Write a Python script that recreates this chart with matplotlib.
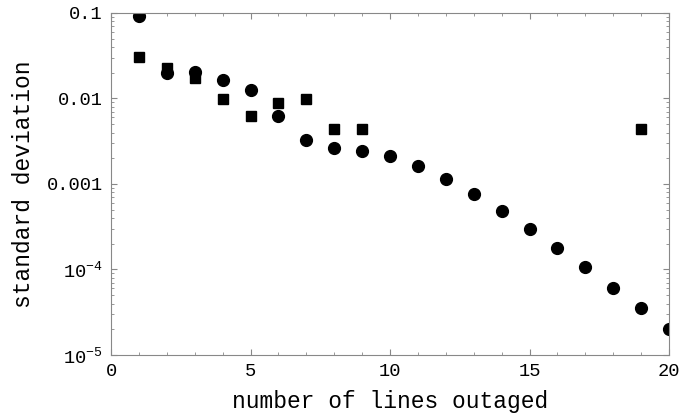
import matplotlib
matplotlib.use("Agg")
import matplotlib.pyplot as plt
import matplotlib.ticker as mticker
import numpy as np

plt.rcParams['font.family'] = ['Liberation Mono', 'DejaVu Sans']
plt.rcParams['mathtext.fontset'] = 'custom'
plt.rcParams['mathtext.rm'] = 'Liberation Mono'
plt.rcParams['mathtext.it'] = 'Liberation Mono'

# circles
n_circ = [1, 2, 3, 4, 5, 6, 7, 8, 9, 10, 11, 12, 13, 14, 15, 16, 17, 18, 19, 20]
sd_circ = [0.092, 0.020, 0.0206, 0.0163, 0.0126, 0.0063, 0.00325, 0.00266, 0.00245, 0.0021,
           0.00163, 0.00114, 0.00077, 0.000488, 0.000298, 0.00018, 0.000106, 6.1e-5, 3.5e-5, 2.0e-5]

# squares
n_sq = [1, 2, 3, 4, 5, 6, 7, 8, 9, 19]
sd_sq = [0.0303, 0.0229, 0.0172, 0.0098, 0.0062, 0.0088, 0.0098, 0.00436, 0.00436, 0.00436]

ytick_vals = [1e-5, 1e-4, 1e-3, 1e-2, 1e-1]
ytick_labels = ['$10^{-5}$', '$10^{-4}$', '0.001', '0.01', '0.1']

fig = plt.figure(figsize=(6.82, 4.15), dpi=100)
ax = fig.add_axes([0.1628, 0.1446, 0.8182, 0.8241])

ax.plot(n_circ, sd_circ, 'o', color='black', markersize=8.5, linestyle='none')
ax.plot(n_sq, sd_sq, 's', color='black', markersize=7.5, linestyle='none')

ax.set_yscale('log')
ax.set_xlim(0, 20)
ax.set_ylim(1e-5, 0.1)

ax.set_xticks([0, 5, 10, 15, 20])
ax.xaxis.set_minor_locator(mticker.MultipleLocator(1))
ax.set_yticks(ytick_vals)
ax.set_yticklabels(ytick_labels)
ax.yaxis.set_minor_locator(mticker.LogLocator(base=10, subs=np.arange(2, 10)))
ax.yaxis.set_minor_formatter(mticker.NullFormatter())

ax.tick_params(which='both', direction='in', top=True, right=True, color='#888888',
               labelsize=13.5, labelcolor='black')
ax.tick_params(which='major', length=4, width=0.8, pad=6)
ax.tick_params(which='minor', length=2, width=0.6)
for s in ax.spines.values():
    s.set_color('#888888')
    s.set_linewidth(0.8)

ax.set_xlabel('number of lines outaged', fontsize=16.5, labelpad=7)
ax.set_ylabel('standard deviation', fontsize=16.5, labelpad=8)

fig.savefig('out.png', dpi=100)
